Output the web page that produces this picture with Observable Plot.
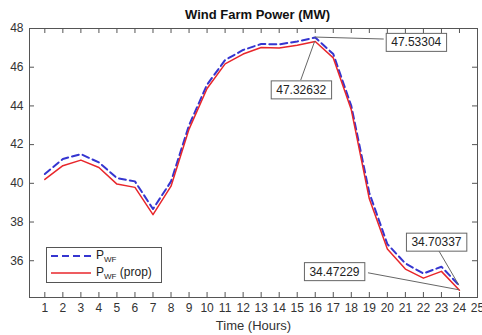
<!DOCTYPE html>
<html><head><meta charset="utf-8">
<script src="https://cdn.jsdelivr.net/npm/d3@7"></script>
<script src="https://cdn.jsdelivr.net/npm/@observablehq/plot@0.6"></script>
<style>
body{margin:0;background:#fff;font-family:"Liberation Sans",Arial,sans-serif;}
#wrap{position:relative;width:482px;height:335px;overflow:hidden;}
.legend{position:absolute;left:46px;top:247px;width:114px;height:34px;border:1px solid #555;background:#fff;font-size:12px;color:#222;}
.legend .row{position:absolute;left:3px;height:14px;display:flex;align-items:center;}
.legend span{margin-left:4px;}
.legend sub{font-size:8px;vertical-align:-3px;}
</style></head><body><div id="wrap"></div>
<script>
// ---- data ----
const hours = [1,2,3,4,5,6,7,8,9,10,11,12,13,14,15,16,17,18,19,20,21,22,23,24];
const pwf  = [40.48,41.26,41.51,41.08,40.27,40.10,38.67,40.10,43.00,45.10,46.37,46.89,47.20,47.18,47.33,47.53304,46.68,44.00,39.50,36.86,35.86,35.34,35.69,34.70337];
const prop = [40.20,40.91,41.20,40.82,39.96,39.79,38.38,39.85,42.80,44.90,46.17,46.68,47.02,46.99,47.13,47.32632,46.48,43.80,39.20,36.60,35.57,35.10,35.45,34.47229];
const xTicks = [1,2,3,4,5,6,7,8,9,10,11,12,13,14,15,16,17,18,19,20,21,22,23,24,25];
const yTicks = [36,38,40,42,44,46,48];
const annoHours  = [16,16,24,24];
const annoValues = [47.53304,47.32632,34.70337,34.47229];
const title = "Wind Farm Power (MW)";
const xLabel = "Time (Hours)";

// ---- layout / styles ----
const W = 482, H = 335, mL = 29, mR = 5, mT = 28, mB = 38;
const innerW = W - mL - mR, innerH = H - mT - mB;
const blue = "#3535d0", red = "#e8262b", axisCol = "#555", textCol = "#333";
// leader end offset (px) and label offsets (px) relative to the annotated point
const annoLayout = [
  {ex: 69, ey: 2, dx: 101, dy: 5},
  {ex: -14, ey: 39, dx: -14, dy: 48.5},
  {ex: -21, ey: -36, dx: -23, dy: -43.5},
  {ex: -91, ey: -17, dx: -125, dy: -18.5}
];

const series = hours.map((h,i)=>({h, v: pwf[i]}));
const seriesP = hours.map((h,i)=>({h, v: prop[i]}));
const annos = annoHours.map((h,i)=>({h, v: annoValues[i], ...annoLayout[i]}));

const plot = Plot.plot({
  width: W, height: H, marginLeft: mL, marginRight: mR, marginTop: mT, marginBottom: mB,
  style: {fontFamily: '"Liberation Sans", Arial, sans-serif', background: "#fff", overflow: "visible"},
  x: {domain: [0.15, 25], axis: null, label: null},
  y: {domain: [34.1, 48], axis: null, label: null},
  marks: [
    Plot.frame({stroke: axisCol}),
    Plot.axisX(xTicks, {anchor: "bottom", tickSize: 0, tickPadding: 6, fontSize: 12, fill: textCol, label: null, tickFormat: d=>String(d)}),
    Plot.axisY(yTicks, {anchor: "left", tickSize: 0, tickPadding: 6, fontSize: 12, fill: textCol, label: null, tickFormat: d=>String(d)}),
    Plot.ruleX(xTicks, {x: d=>d, insetTop: innerH - 5, stroke: axisCol}),
    Plot.ruleX(xTicks, {x: d=>d, insetBottom: innerH - 5, stroke: axisCol}),
    Plot.ruleY(yTicks, {y: d=>d, insetRight: innerW - 5, stroke: axisCol}),
    Plot.ruleY(yTicks, {y: d=>d, insetLeft: innerW - 5, stroke: axisCol}),
    Plot.line(series, {x: "h", y: "v", stroke: blue, strokeWidth: 2, strokeDasharray: "7,4"}),
    Plot.line(seriesP, {x: "h", y: "v", stroke: red, strokeWidth: 1.5}),
    ...annos.map(a => Plot.text([a], {x: "h", y: "v", text: d=>d.v.toFixed(5), dx: a.dx, dy: a.dy, fontSize: 12, fill: "#222", className: "anno"})),
    Plot.text([title], {frameAnchor: "top", dy: -14, dx: 4, lineAnchor: "middle", fontSize: 13, fontWeight: "bold", fill: "#111"}),
    Plot.text([xLabel], {frameAnchor: "bottom", dy: 28, lineAnchor: "middle", fontSize: 13, fill: textCol})
  ]
});
const wrap = document.getElementById("wrap");
wrap.appendChild(plot);

const NS = "http://www.w3.org/2000/svg";
// leader lines from annotated points (positions via the plot's own scales)
const sx = plot.scale("x"), sy = plot.scale("y");
const lg0 = document.createElementNS(NS, "g");
annos.forEach(a => {
  const px = sx.apply(a.h), py = sy.apply(a.v);
  const l = document.createElementNS(NS, "line");
  l.setAttribute("x1", px); l.setAttribute("y1", py);
  l.setAttribute("x2", px + a.ex); l.setAttribute("y2", py + a.ey);
  l.setAttribute("stroke", "#666"); l.setAttribute("stroke-width", 1);
  lg0.appendChild(l);
});
const firstAnno = plot.querySelector(".anno");
plot.insertBefore(lg0, firstAnno);

// boxes behind annotation labels
plot.querySelectorAll(".anno text").forEach(t => {
  const b = t.getBBox();
  const r = document.createElementNS(NS, "rect");
  r.setAttribute("x", b.x - 5); r.setAttribute("y", b.y - 2);
  r.setAttribute("width", b.width + 10); r.setAttribute("height", b.height + 4);
  r.setAttribute("fill", "#fff"); r.setAttribute("stroke", "#666");
  if (t.getAttribute("transform")) r.setAttribute("transform", t.getAttribute("transform"));
  t.parentNode.insertBefore(r, t);
});

// legend
const lg = document.createElement("div");
lg.className = "legend";
lg.innerHTML = `
 <div class="row" style="top:1px"><svg width="42" height="8"><line x1="1" x2="41" y1="4" y2="4" stroke="${blue}" stroke-width="2" stroke-dasharray="7,4"/></svg><span>P<sub>WF</sub></span></div>
 <div class="row" style="top:18px"><svg width="42" height="8"><line x1="1" x2="41" y1="4" y2="4" stroke="${red}" stroke-width="1.5"/></svg><span>P<sub>WF</sub> (prop)</span></div>`;
wrap.appendChild(lg);
</script></body></html>
